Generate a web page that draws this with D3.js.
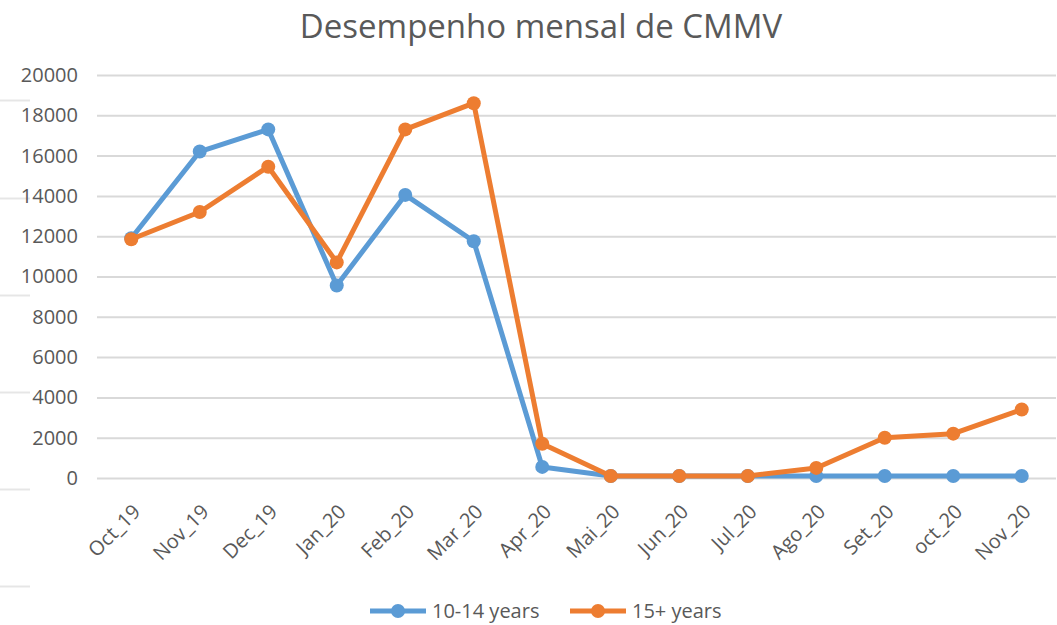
<!DOCTYPE html>
<html>
<head>
<meta charset="utf-8">
<script src="https://cdn.jsdelivr.net/npm/d3@7"></script>
<style>
  html, body { margin: 0; padding: 0; background: #fff; }
  #chart { width: 1057px; height: 625px; }
  text { font-family: "Open Sans", "Noto Sans", sans-serif; fill: #595959; }
</style>
</head>
<body>
<div id="chart"></div>
<script>
// chart data
const months = ['Oct_19', 'Nov_19', 'Dec_19', 'Jan_20', 'Feb_20', 'Mar_20', 'Apr_20',
  'Mai_20', 'Jun_20', 'Jul_20', 'Ago_20', 'Set_20', 'oct_20', 'Nov_20'];
const youngValues = [11900, 16200, 17300, 9550, 14050, 11750, 550, 100, 100, 100, 100, 100, 100, 100];
const olderValues = [11850, 13200, 15450, 10700, 17300, 18600, 1700, 100, 100, 100, 500, 2000, 2200, 3400];
const seriesNames = ['10-14 years', '15+ years'];
const seriesColors = ['#5B9BD5', '#ED7D31'];
const yTicks = [0, 2000, 4000, 6000, 8000, 10000, 12000, 14000, 16000, 18000, 20000];
const titleText = 'Desempenho mensal de CMMV';

class LinePlot {
  constructor(targetDiv) {
    this.targetEle = targetDiv;
    d3.select(this.targetEle).selectAll('*').remove();

    this.series = [
      { name: seriesNames[0], color: seriesColors[0], values: youngValues },
      { name: seriesNames[1], color: seriesColors[1], values: olderValues }
    ];

    this.svg = null;
    this.xScale = null;
    this.yScale = null;
  }

  setupPlot() {
    const W = 1057, H = 625;
    const margin = { top: 75, right: 1, bottom: 147, left: 97 };

    this.svg = d3.select(this.targetEle).append('svg')
      .attr('width', W)
      .attr('height', H);

    // stray sheet lines at the left edge of the picture
    [100, 198, 295, 392, 489, 586].forEach(y => {
      this.svg.append('line')
        .attr('x1', 0).attr('x2', 30)
        .attr('y1', y + 0.5).attr('y2', y + 0.5)
        .attr('stroke', '#e6e6e6')
        .attr('stroke-width', 2);
    });

    // scales
    this.xScale = d3.scalePoint()
      .domain(months)
      .range([margin.left, W - margin.right])
      .padding(0.5);

    this.yScale = d3.scaleLinear()
      .domain([0, 20000])
      .range([H - margin.bottom, margin.top]);

    // title
    this.svg.append('text')
      .attr('x', 541)
      .attr('y', 38)
      .attr('text-anchor', 'middle')
      .style('font-size', '33px')
      .text(titleText);

    // y grid + labels
    const yAxis = d3.axisLeft(this.yScale)
      .tickValues(yTicks)
      .tickSize(-(W - margin.left - margin.right))
      .tickPadding(19)
      .tickFormat(d => d);

    const gy = this.svg.append('g')
      .attr('transform', `translate(${margin.left}, 0)`)
      .call(yAxis);
    gy.select('.domain').remove();
    gy.selectAll('.tick line')
      .attr('stroke', '#d9d9d9')
      .attr('stroke-width', 2);
    gy.selectAll('.tick text')
      .style('font-size', '20px')
      .attr('fill', '#595959');

    // x labels
    const xAxis = d3.axisBottom(this.xScale).tickSize(0);
    const gx = this.svg.append('g')
      .attr('transform', `translate(0, ${H - margin.bottom})`)
      .call(xAxis);
    gx.select('.domain').remove();
    gx.selectAll('.tick text')
      .style('font-size', '20px')
      .attr('fill', '#595959')
      .attr('text-anchor', 'end')
      .attr('dy', '0.35em')
      .attr('transform', 'translate(5, 30) rotate(-45)')
      .attr('y', 0)
      .attr('x', 0);
  }

  draw() {
    const self = this;
    const line = d3.line()
      .x((d, i) => self.xScale(months[i]))
      .y(d => self.yScale(d));

    const groups = this.svg.selectAll('.series')
      .data(this.series)
      .enter()
      .append('g')
      .attr('class', 'series');

    groups.append('path')
      .attr('d', d => line(d.values))
      .attr('fill', 'none')
      .attr('stroke', d => d.color)
      .attr('stroke-width', 5)
      .attr('stroke-linejoin', 'round');

    groups.selectAll('circle')
      .data(d => d.values.map((v, i) => ({ v, i, color: d.color })))
      .enter()
      .append('circle')
      .attr('cx', d => self.xScale(months[d.i]))
      .attr('cy', d => self.yScale(d.v))
      .attr('r', 7)
      .attr('fill', d => d.color);

    // legend
    const legendX = [370, 570];
    const legend = this.svg.selectAll('.legend')
      .data(this.series)
      .enter()
      .append('g')
      .attr('class', 'legend')
      .attr('transform', (d, i) => `translate(${legendX[i]}, 611)`);

    legend.append('line')
      .attr('x1', 0).attr('x2', 56)
      .attr('stroke', d => d.color)
      .attr('stroke-width', 5);
    legend.append('circle')
      .attr('cx', 28)
      .attr('r', 7)
      .attr('fill', d => d.color);
    legend.append('text')
      .attr('x', 62)
      .attr('dy', '0.35em')
      .style('font-size', '20px')
      .text(d => d.name);
  }
}

const plot = new LinePlot('#chart');
plot.setupPlot();
plot.draw();
</script>
</body>
</html>
